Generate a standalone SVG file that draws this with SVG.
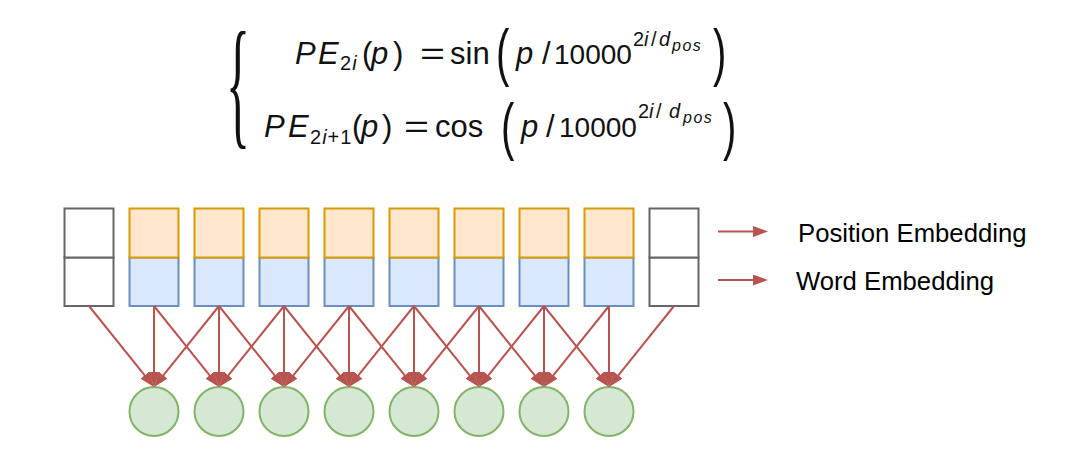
<svg xmlns="http://www.w3.org/2000/svg" width="1066" height="454" viewBox="0 0 1066 454">
<style>
.m{font-family:"Liberation Sans",Arial,sans-serif;fill:#111;font-size:31px}
.it{font-style:italic}
.sub{font-size:20px}
.ss{font-size:16px;letter-spacing:1.5px}
.num{font-size:28px}
.big{font-family:"Liberation Sans",Arial,sans-serif;fill:#111;font-size:40px}
.lbl{font-family:"Liberation Sans",Arial,sans-serif;fill:#000;font-size:25.7px}
.gray{fill:#fff;stroke:#666;stroke-width:2}
.pos{fill:#ffe6cc;stroke:#d79b00;stroke-width:2}
.word{fill:#dae8fc;stroke:#6c8ebf;stroke-width:2}
.out{fill:#d5e8d4;stroke:#82b366;stroke-width:2}
.c{stroke:#b85450;stroke-width:2;fill:none;marker-end:url(#ah)}
</style>
<defs>
<marker id="ah" markerUnits="userSpaceOnUse" markerWidth="15" markerHeight="11" viewBox="0 0 15 11" refX="3" refY="5.5" orient="auto">
<path d="M0,0 L15,5.5 L0,11 Z" fill="#b85450"/>
</marker>
</defs>
<rect width="1066" height="454" fill="#fff"/>

<g id="formula">
<text class="m" transform="translate(226,130) scale(1,2.85)" style="font-family:'Liberation Serif',serif;font-size:50px">{</text>
<!-- line 1 -->
<text class="m it" x="295" y="63.5">P</text>
<text class="m it" x="318" y="63.5">E</text>
<text class="m sub" x="340" y="69.5" letter-spacing="1">2<tspan class="it">i</tspan></text>
<text class="m" x="362" y="63.5">(</text>
<text class="m it" x="371" y="63.5">p</text>
<text class="m" x="393" y="63.5">)</text>
<text class="m" x="420" y="63.5" textLength="25" lengthAdjust="spacingAndGlyphs">=</text>
<text class="m" x="450" y="63.5">sin</text>
<text class="big" transform="translate(496,73.7) scale(1,1.57)">(</text>
<text class="m it" x="516" y="63.5">p</text>
<text class="m" x="542" y="63.5">/</text>
<text class="m num" x="554" y="63.5">10000</text>
<text class="m sub" x="633" y="45.5">2</text>
<text class="m sub it" x="644" y="45.5">i</text>
<text class="m sub" x="651" y="45.5">/</text>
<text class="m sub it" x="659" y="45.5">d</text>
<text class="m ss it" x="672" y="50.5">pos</text>
<text class="big" transform="translate(713,73.7) scale(1,1.57)">)</text>
<!-- line 2 -->
<text class="m it" x="264" y="137">P</text>
<text class="m it" x="288" y="137">E</text>
<text class="m sub" x="310" y="143.5" letter-spacing="1">2<tspan class="it">i</tspan>+1</text>
<text class="m" x="352" y="137">(</text>
<text class="m it" x="361" y="137">p</text>
<text class="m" x="382" y="137">)</text>
<text class="m" x="404" y="137" textLength="25" lengthAdjust="spacingAndGlyphs">=</text>
<text class="m" x="435" y="137">cos</text>
<text class="big" transform="translate(501,147.7) scale(1,1.57)">(</text>
<text class="m it" x="521" y="137">p</text>
<text class="m" x="546" y="137">/</text>
<text class="m num" x="559" y="137">10000</text>
<text class="m sub" x="638" y="118">2</text>
<text class="m sub it" x="649" y="118">i</text>
<text class="m sub" x="656" y="118">/</text>
<text class="m sub it" x="669" y="118">d</text>
<text class="m ss it" x="683" y="123">pos</text>
<text class="big" transform="translate(723,147.7) scale(1,1.57)">)</text>
</g>

<g id="col0"><rect class="gray" x="64.5" y="257.5" width="49" height="48.5"/><rect class="gray" x="64.5" y="208.5" width="49" height="49"/></g>
<g id="col1"><rect class="word" x="129.5" y="257.5" width="49" height="48.5"/><rect class="pos" x="129.5" y="208.5" width="49" height="49"/></g>
<g id="col2"><rect class="word" x="194.5" y="257.5" width="49" height="48.5"/><rect class="pos" x="194.5" y="208.5" width="49" height="49"/></g>
<g id="col3"><rect class="word" x="259.5" y="257.5" width="49" height="48.5"/><rect class="pos" x="259.5" y="208.5" width="49" height="49"/></g>
<g id="col4"><rect class="word" x="324.5" y="257.5" width="49" height="48.5"/><rect class="pos" x="324.5" y="208.5" width="49" height="49"/></g>
<g id="col5"><rect class="word" x="389.5" y="257.5" width="49" height="48.5"/><rect class="pos" x="389.5" y="208.5" width="49" height="49"/></g>
<g id="col6"><rect class="word" x="454.5" y="257.5" width="49" height="48.5"/><rect class="pos" x="454.5" y="208.5" width="49" height="49"/></g>
<g id="col7"><rect class="word" x="519.5" y="257.5" width="49" height="48.5"/><rect class="pos" x="519.5" y="208.5" width="49" height="49"/></g>
<g id="col8"><rect class="word" x="584.5" y="257.5" width="49" height="48.5"/><rect class="pos" x="584.5" y="208.5" width="49" height="49"/></g>
<g id="col9"><rect class="gray" x="649.5" y="257.5" width="49" height="48.5"/><rect class="gray" x="649.5" y="208.5" width="49" height="49"/></g>

<g id="out1"><circle class="out" cx="154" cy="411.5" r="24.5"/></g>
<g id="out2"><circle class="out" cx="219" cy="411.5" r="24.5"/></g>
<g id="out3"><circle class="out" cx="284" cy="411.5" r="24.5"/></g>
<g id="out4"><circle class="out" cx="349" cy="411.5" r="24.5"/></g>
<g id="out5"><circle class="out" cx="414" cy="411.5" r="24.5"/></g>
<g id="out6"><circle class="out" cx="479" cy="411.5" r="24.5"/></g>
<g id="out7"><circle class="out" cx="544" cy="411.5" r="24.5"/></g>
<g id="out8"><circle class="out" cx="609" cy="411.5" r="24.5"/></g>

<g id="connectors">
<path class="c" d="M89,306 L146.5,377.6"/><path class="c" d="M154,306 L154,375"/><path class="c" d="M219,306 L161.5,377.6"/>
<path class="c" d="M154,306 L211.5,377.6"/><path class="c" d="M219,306 L219,375"/><path class="c" d="M284,306 L226.5,377.6"/>
<path class="c" d="M219,306 L276.5,377.6"/><path class="c" d="M284,306 L284,375"/><path class="c" d="M349,306 L291.5,377.6"/>
<path class="c" d="M284,306 L341.5,377.6"/><path class="c" d="M349,306 L349,375"/><path class="c" d="M414,306 L356.5,377.6"/>
<path class="c" d="M349,306 L406.5,377.6"/><path class="c" d="M414,306 L414,375"/><path class="c" d="M479,306 L421.5,377.6"/>
<path class="c" d="M414,306 L471.5,377.6"/><path class="c" d="M479,306 L479,375"/><path class="c" d="M544,306 L486.5,377.6"/>
<path class="c" d="M479,306 L536.5,377.6"/><path class="c" d="M544,306 L544,375"/><path class="c" d="M609,306 L551.5,377.6"/>
<path class="c" d="M544,306 L601.5,377.6"/><path class="c" d="M609,306 L609,375"/><path class="c" d="M674,306 L616.5,377.6"/>
<path class="c" d="M718,231.5 L756,231.5"/>
<path class="c" d="M718,280 L756,280"/>
</g>

<g id="legend">
<text class="lbl" x="798" y="241.5">Position Embedding</text>
<text class="lbl" x="796" y="289.5">Word Embedding</text>
</g>
</svg>
